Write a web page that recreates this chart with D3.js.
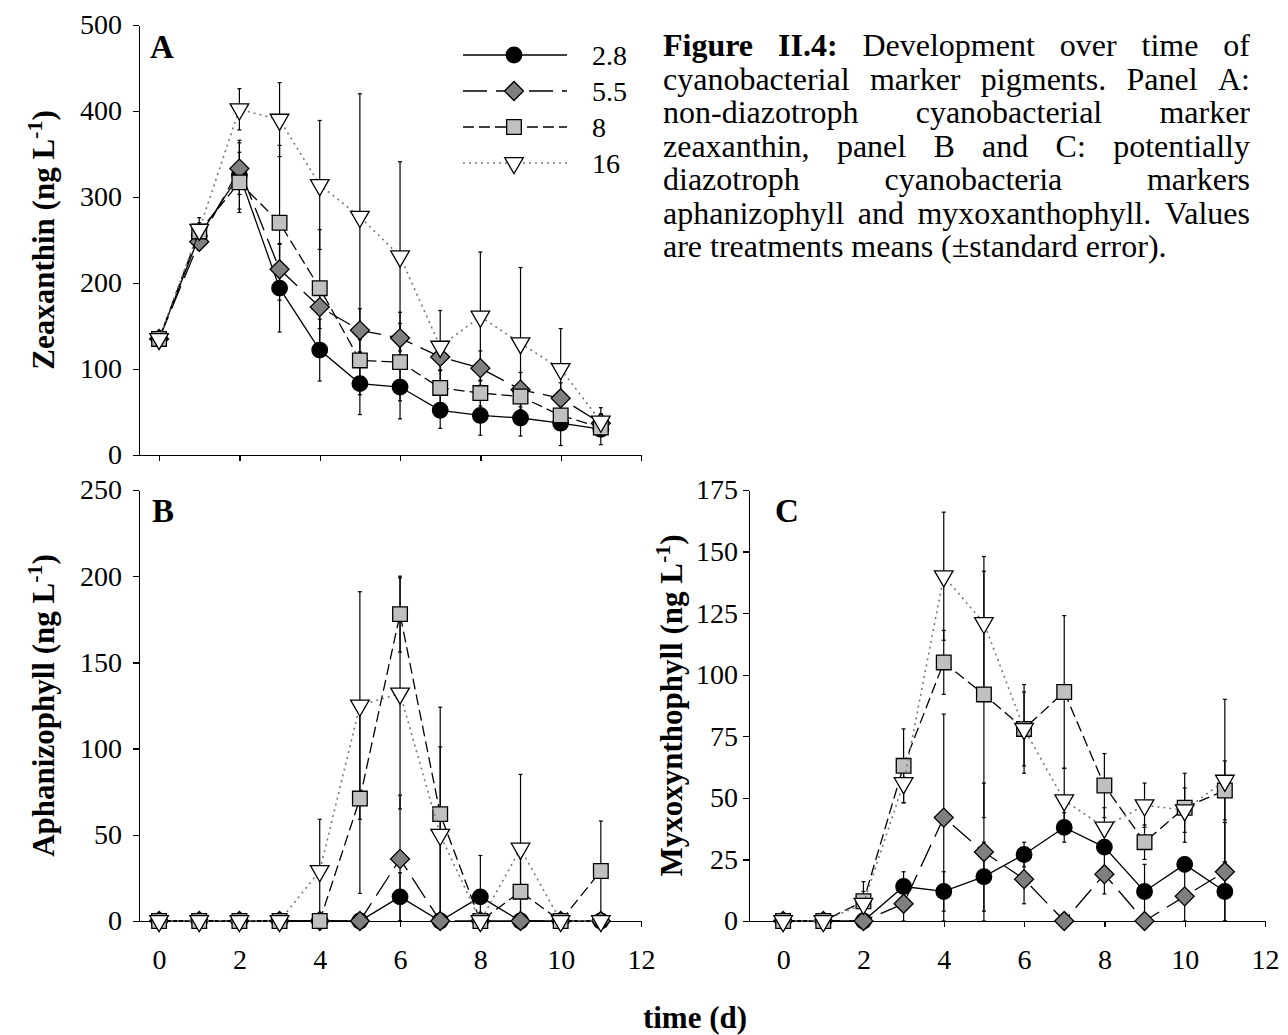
<!DOCTYPE html>
<html>
<head>
<meta charset="utf-8"/>
<title>Figure II.4</title>
<script src="https://d3js.org/d3.v7.min.js"></script>
<style>
body { margin: 0; background: #fff; }
svg text { font-family: "Liberation Serif", "Times New Roman", serif; fill: #000; }
.axis path, .axis line { stroke: #000; stroke-width: 1.3; shape-rendering: crispEdges; }
.axis text { font-size: 28px; font-family: "Liberation Serif", "Times New Roman", serif; }
</style>
</head>
<body>
<svg id="fig" width="1288" height="1035"></svg>
<script>
// sampling days
var days = [0, 1, 2, 3, 4, 5, 6, 7, 8, 9, 10, 11];
var treatments = ["2.8", "5.5", "8", "16"];

// panel A: zeaxanthin (ng/L), means and standard errors
var zea28 = [135, 255, 326, 194, 122, 83, 79, 52, 46, 43, 37, 30];
var zea55 = [135, 248, 333, 216, 172, 145, 136, 114, 101, 76, 66, 37];
var zea8  = [135, 260, 317, 270, 194, 110, 108, 78, 72, 68, 46, 32];
var zea16 = [135, 262, 402, 390, 314, 277, 231, 126, 161, 130, 100, 39];
var zeaSe28 = [3, 10, 40, 51, 36, 36, 37, 21, 23, 21, 26, 18];
var zeaSe55 = [3, 10, 30, 30, 25, 25, 30, 15, 20, 20, 18, 10];
var zeaSe8  = [3, 10, 35, 90, 68, 40, 45, 20, 15, 15, 15, 10];
var zeaSe16 = [3, 14, 24, 43, 75, 143, 110, 42, 75, 88, 47, 16];

// panel B: aphanizophyll
var aph28 = [0, 0, 0, 0, 0, 0, 14, 0, 14, 0, 0, 0];
var aph55 = [0, 0, 0, 0, 0, 0, 36, 0, 0, 0, 0, 0];
var aph8  = [0, 0, 0, 0, 0, 71, 178, 62, 0, 17, 0, 29];
var aph16 = [0, 0, 0, 0, 29, 125, 132, 50, 0, 42, 0, 0];
var aphSe28 = [0, 0, 0, 0, 0, 0, 14, 0, 24, 0, 0, 0];
var aphSe55 = [0, 0, 0, 0, 0, 0, 37, 0, 0, 0, 0, 0];
var aphSe8  = [0, 0, 0, 0, 0, 55, 22, 62, 0, 22, 0, 29];
var aphSe16 = [0, 0, 0, 0, 30, 66, 67, 51, 0, 43, 0, 0];

// panel C: myxoxanthophyll
var myx28 = [0, 0, 0, 14, 12, 18, 27, 38, 30, 12, 23, 12];
var myx55 = [0, 0, 0, 7, 42, 28, 17, 0, 19, 0, 10, 20];
var myx8  = [0, 0, 8, 63, 105, 92, 78, 93, 55, 32, 46, 53];
var myx16 = [0, 0, 7, 56, 140, 121, 78, 49, 38, 47, 45, 57];
var myxSe28 = [0, 0, 0, 6, 8, 14, 5, 6, 2, 11, 2, 12];
var myxSe55 = [0, 0, 0, 7, 42, 28, 10, 0, 8, 0, 10, 20];
var myxSe8  = [0, 0, 8, 15, 13, 50, 18, 31, 13, 7, 14, 12];
var myxSe16 = [0, 0, 5, 8, 26, 27, 15, 13, 8, 9, 9, 33];

var xTicks = [0, 2, 4, 6, 8, 10, 12];
var yTicksA = [0, 100, 200, 300, 400, 500];
var yTicksB = [0, 50, 100, 150, 200, 250];
var yTicksC = [0, 25, 50, 75, 100, 125, 150, 175];

var captionLines = [
    "Figure II.4: Development over time of",
    "cyanobacterial marker pigments. Panel A:",
    "non-diazotroph cyanobacterial marker",
    "zeaxanthin, panel B and C: potentially",
    "diazotroph cyanobacteria markers",
    "aphanizophyll and myxoxanthophyll. Values",
    "are treatments means (\u00b1standard error)."
];

// look of each treatment
var style = {
    "2.8": {shape: "circle",   fill: "#000000", dash: null,   stroke: "#000"},
    "5.5": {shape: "diamond",  fill: "#7f7f7f", dash: "24,9", stroke: "#000"},
    "8":   {shape: "square",   fill: "#c0c0c0", dash: "11,5", stroke: "#000"},
    "16":  {shape: "triangle", fill: "#ffffff", dash: "2,4",  stroke: "#777"}
};

var svg = d3.select("#fig");

function marker(sel, shape, fill) {
    var p = sel.append("path").attr("fill", fill).attr("stroke", "#000").attr("stroke-width", 1.3);
    if (shape == "circle") p.attr("d", d3.symbol().type(d3.symbolCircle).size(190)());
    if (shape == "square") p.attr("d", d3.symbol().type(d3.symbolSquare).size(215)());
    if (shape == "diamond") p.attr("d", d3.symbol().type(d3.symbolSquare).size(180)()).attr("transform", "rotate(45)");
    if (shape == "triangle") p.attr("d", d3.symbol().type(d3.symbolTriangle).size(150)()).attr("transform", "rotate(180)");
    return p;
}

function drawPanel(cfg) {
    var x = d3.scaleLinear().domain(cfg.xDomain).range(cfg.xRange);
    var y = d3.scaleLinear().domain([0, cfg.yMax]).range(cfg.yRange);

    var xAxis = d3.axisBottom(x).tickValues(xTicks).tickSize(6).tickSizeOuter(0).tickPadding(22);
    if (!cfg.xLabels) xAxis.tickFormat("");
    svg.append("g").attr("class", "axis")
        .attr("transform", "translate(0," + cfg.yRange[0] + ")")
        .call(xAxis);
    svg.append("g").attr("class", "axis")
        .attr("transform", "translate(" + cfg.xRange[0] + ",0)")
        .call(d3.axisLeft(y).tickValues(cfg.yTicks).tickSize(6).tickSizeOuter(0).tickPadding(cfg.yPad));

    // error bars first
    treatments.forEach(function(t, k) {
        var g = svg.append("g").attr("stroke", "#000").attr("stroke-width", 1.2);
        days.forEach(function(d, i) {
            var se = cfg.se[k][i];
            if (!se) return;
            var m = cfg.means[k][i];
            var lo = Math.max(0, m - se), hi = m + se;
            g.append("line").attr("x1", x(d)).attr("x2", x(d)).attr("y1", y(lo)).attr("y2", y(hi));
            g.append("line").attr("x1", x(d) - 2).attr("x2", x(d) + 2).attr("y1", y(hi)).attr("y2", y(hi));
            g.append("line").attr("x1", x(d) - 2).attr("x2", x(d) + 2).attr("y1", y(lo)).attr("y2", y(lo));
        });
    });

    treatments.forEach(function(t, k) {
        var st = style[t];
        var vals = cfg.means[k];
        var line = d3.line().x(function(d, i) { return x(days[i]); }).y(function(d) { return y(d); });
        svg.append("path").datum(vals)
            .attr("d", line)
            .attr("fill", "none")
            .attr("stroke", st.stroke)
            .attr("stroke-width", t == "16" ? 1.6 : 1.3)
            .attr("stroke-dasharray", st.dash);
        vals.forEach(function(v, i) {
            var g = svg.append("g").attr("transform", "translate(" + x(days[i]) + "," + y(v) + ")");
            marker(g, st.shape, st.fill);
        });
    });

    svg.append("text").attr("x", cfg.letter[0]).attr("y", cfg.letter[1])
        .style("font-size", "33px").style("font-weight", "bold").text(cfg.key);

    var yt = svg.append("text")
        .attr("transform", "translate(" + cfg.titleX + "," + (cfg.yRange[0] + cfg.yRange[1]) / 2 + ") rotate(-90)")
        .attr("text-anchor", "middle")
        .style("font-size", "31px").style("font-weight", "bold");
    yt.append("tspan").text(cfg.title + " (ng L");
    yt.append("tspan").attr("dy", -12).style("font-size", "22px").text("-1");
    yt.append("tspan").attr("dy", 12).text(")");
}

drawPanel({key: "A", means: [zea28, zea55, zea8, zea16], se: [zeaSe28, zeaSe55, zeaSe8, zeaSe16],
    yMax: 500, yTicks: yTicksA, xDomain: [-0.5, 12], xRange: [139, 641], yRange: [455, 25],
    xLabels: false, letter: [150, 58], title: "Zeaxanthin", titleX: 54, yPad: 11});
drawPanel({key: "B", means: [aph28, aph55, aph8, aph16], se: [aphSe28, aphSe55, aphSe8, aphSe16],
    yMax: 250, yTicks: yTicksB, xDomain: [-0.5, 12], xRange: [139, 641], yRange: [921, 490],
    xLabels: true, letter: [152, 522], title: "Aphanizophyll", titleX: 54, yPad: 11});
drawPanel({key: "C", means: [myx28, myx55, myx8, myx16], se: [myxSe28, myxSe55, myxSe8, myxSe16],
    yMax: 175, yTicks: yTicksC, xDomain: [-0.85, 12], xRange: [749, 1265], yRange: [921, 490],
    xLabels: true, letter: [775, 522], title: "Myxoxynthophyll", titleX: 682, yPad: 5});

// legend
var lg = svg.append("g");
treatments.forEach(function(t, k) {
    var st = style[t];
    var yy = 55 + k * 36;
    lg.append("line").attr("x1", 463).attr("x2", 567).attr("y1", yy).attr("y2", yy)
        .attr("stroke", st.stroke).attr("stroke-width", t == "16" ? 1.6 : 1.3)
        .attr("stroke-dasharray", st.dash);
    marker(lg.append("g").attr("transform", "translate(514," + yy + ")"), st.shape, st.fill);
    lg.append("text").attr("x", 592).attr("y", yy + 10).style("font-size", "28px").text(t);
});

// x axis title
svg.append("text").attr("x", 695).attr("y", 1028).attr("text-anchor", "middle")
    .style("font-size", "31px").style("font-weight", "bold").text("time (d)");

// justified caption
var capX0 = 663, capX1 = 1250, capY = 56, capStep = 33.5, capSize = 32;
captionLines.forEach(function(ln, li) {
    var words = ln.split(" ");
    var nodes = words.map(function(w, wi) {
        return svg.append("text").attr("y", capY + li * capStep)
            .style("font-size", capSize + "px")
            .style("font-weight", (li == 0 && wi < 2) ? "bold" : "normal")
            .text(w);
    });
    var widths = nodes.map(function(n) { return n.node().getComputedTextLength(); });
    var last = li == captionLines.length - 1;
    var gap = last ? capSize * 0.25 : (capX1 - capX0 - d3.sum(widths)) / (words.length - 1);
    var xx = capX0;
    nodes.forEach(function(n, i) { n.attr("x", xx); xx += widths[i] + gap; });
});
</script>
</body>
</html>
